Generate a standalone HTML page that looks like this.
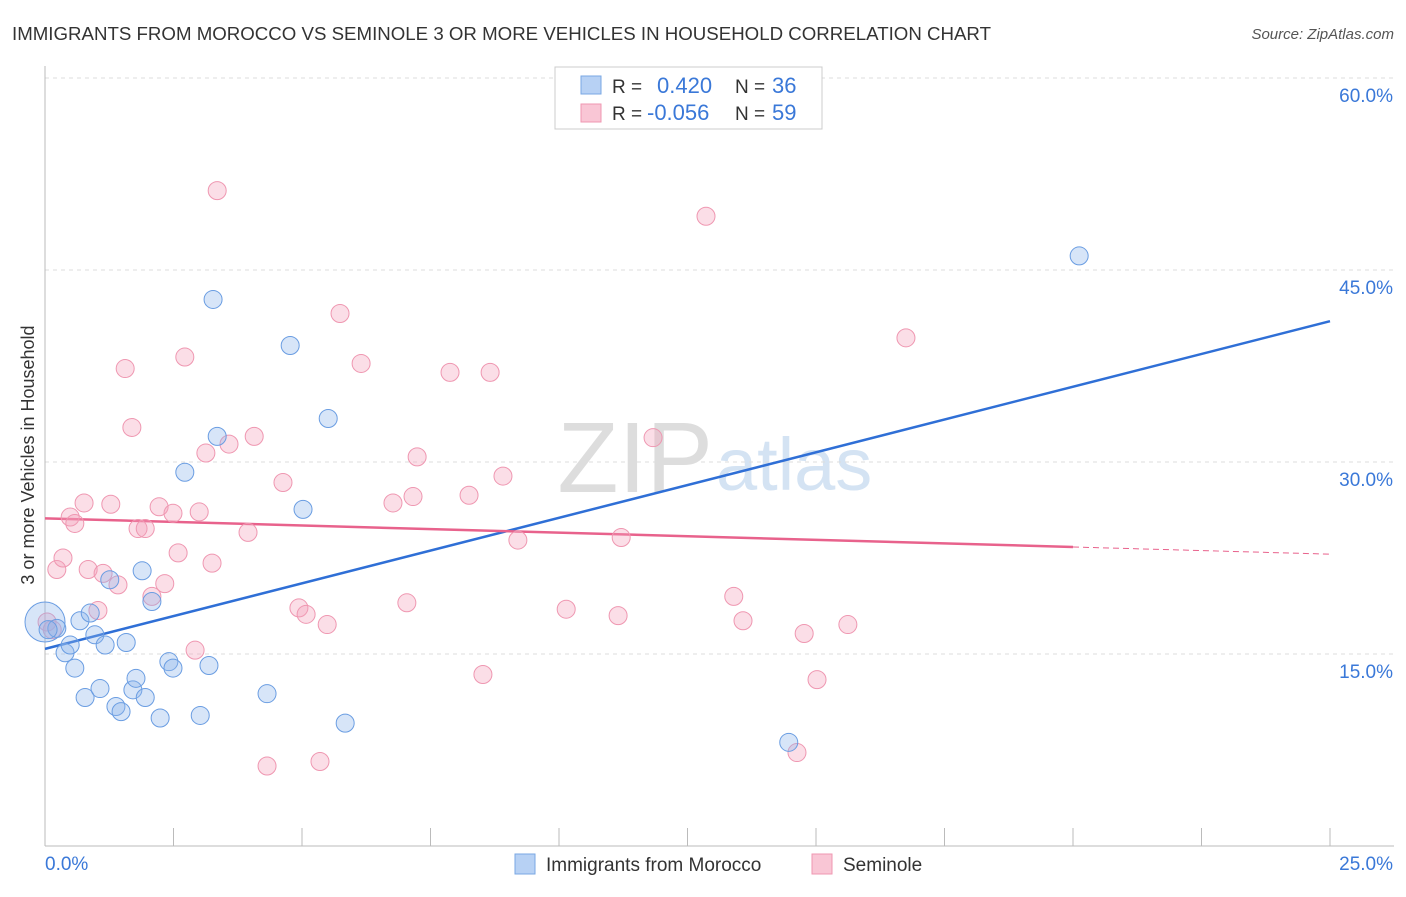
<!DOCTYPE html>
<html><head><meta charset="utf-8"><style>
body{margin:0;background:#fff;font-family:"Liberation Sans",sans-serif;}
svg text{font-family:"Liberation Sans",sans-serif;}
</style></head><body>
<svg id="c" width="1406" height="892" xmlns="http://www.w3.org/2000/svg">
<text x="12" y="40" font-size="18" fill="#333" textLength="979" lengthAdjust="spacingAndGlyphs">IMMIGRANTS FROM MOROCCO VS SEMINOLE 3 OR MORE VEHICLES IN HOUSEHOLD CORRELATION CHART</text>
<text x="1394" y="39" font-size="15" fill="#555" font-style="italic" text-anchor="end">Source: ZipAtlas.com</text>
<text x="713" y="492" font-size="100" fill="#ddd" text-anchor="end" font-family="Liberation Serif">ZIP</text>
<text x="716" y="490" font-size="74" fill="#d4e3f3">atlas</text>
<g id="grid"></g><g id="axes"></g><g id="lines"></g><g id="pts"></g>
<text x="34" y="455" font-size="18" fill="#333" transform="rotate(-90 34 455)" text-anchor="middle">3 or more Vehicles in Household</text>
<g>
<rect x="555" y="67" width="267" height="62" fill="#fff" stroke="#ccc"/>
<rect x="581" y="76" width="20" height="18" fill="#b7d1f4" stroke="#7aa7e3"/>
<rect x="581" y="104" width="20" height="18" fill="#f9c6d5" stroke="#ef97b1"/>
<text x="612" y="93" font-size="19" fill="#333">R = </text><text x="657" y="93" font-size="22" fill="#3a78d8">0.420</text>
<text x="735" y="93" font-size="19" fill="#333">N = </text><text x="772" y="93" font-size="22" fill="#3a78d8">36</text>
<text x="612" y="120" font-size="19" fill="#333">R = </text><text x="647" y="120" font-size="22" fill="#3a78d8">-0.056</text>
<text x="735" y="120" font-size="19" fill="#333">N = </text><text x="772" y="120" font-size="22" fill="#3a78d8">59</text>
</g>
<g>
<rect x="515" y="854" width="20" height="20" fill="#b7d1f4" stroke="#7aa7e3"/>
<text x="546" y="871" font-size="19" fill="#333">Immigrants from Morocco</text>
<rect x="812" y="854" width="20" height="20" fill="#f9c6d5" stroke="#ef97b1"/>
<text x="843" y="871" font-size="19" fill="#333">Seminole</text>
</g>
</svg>
<script>
const xTicks=[0,25];
const yTicks=[15,30,45,60];
const blueX=[0,0.23,0.06,0.39,0.49,0.58,0.68,0.78,0.88,0.97,1.07,1.17,1.26,1.38,1.48,1.58,1.71,1.77,1.89,1.95,2.08,2.24,2.41,2.49,2.72,3.02,3.19,3.27,3.35,4.32,4.77,5.02,5.51,5.84,14.47,20.12];
const blueY=[17.5,17.0,16.9,15.1,15.7,13.9,17.6,11.6,18.2,16.5,12.3,15.7,20.8,10.9,10.5,15.9,12.2,13.1,21.5,11.6,19.1,10.0,14.4,13.9,29.2,10.2,14.1,42.7,32.0,11.9,39.1,26.3,33.4,9.6,8.1,46.1];
const pinkX=[0.04,0.14,0.23,0.35,0.49,0.58,0.76,0.84,1.03,1.13,1.28,1.42,1.56,1.69,1.81,1.95,2.08,2.22,2.33,2.49,2.59,2.72,2.92,3.00,3.13,3.25,3.35,3.58,3.95,4.07,4.32,4.63,4.94,5.08,5.35,5.49,5.74,6.15,6.77,7.04,7.16,7.24,7.88,8.25,8.52,8.66,8.91,9.20,10.14,11.15,11.21,11.83,12.86,13.40,13.58,14.63,14.77,15.02,15.62,16.75];
const pinkY=[17.5,16.9,21.6,22.5,25.7,25.2,26.8,21.6,18.4,21.3,26.7,20.4,37.3,32.7,24.8,24.8,19.5,26.5,20.5,26.0,22.9,38.2,15.3,26.1,30.7,22.1,51.2,31.4,24.5,32.0,6.25,28.4,18.6,18.1,6.6,17.3,41.6,37.7,26.8,19.0,27.3,30.4,37.0,27.4,13.4,37.0,28.9,23.9,18.5,18.0,24.1,31.9,49.2,19.5,17.6,7.3,16.6,13.0,17.3,39.7];
const blueTrend=[15.4,41.0];
const pinkTrend=[25.6,23.36,22.8];
const X=v=>45+v/25*1285, Y=v=>846-v/15*192;
const NS="http://www.w3.org/2000/svg";
function mk(p,t,a){const e=document.createElementNS(NS,t);for(const k in a)e.setAttribute(k,a[k]);document.getElementById(p).appendChild(e);return e;}
yTicks.forEach(t=>{
 const l=mk('grid','line',{x1:45,x2:1394,y1:Y(t),y2:Y(t),stroke:'#ddd','stroke-dasharray':'4,4'});
 
 
 const tx=mk('grid','text',{x:1393,y:Y(t)+24,'font-size':19,fill:'#3a78d8','text-anchor':'end'});tx.textContent=t.toFixed(1)+'%';
 
 
});
mk('axes','line',{x1:45,x2:45,y1:66,y2:846,stroke:'#bbb'});
mk('axes','line',{x1:45,x2:1394,y1:846,y2:846,stroke:'#bbb'});
for(let i=0;i<=10;i++){mk('axes','line',{x1:X(i*2.5),x2:X(i*2.5),y1:828,y2:846,stroke:'#bbb'});}
xTicks.forEach((t,i)=>{const tx=mk('axes','text',{x:i?1393:45,y:870,'font-size':19,fill:'#3a78d8','text-anchor':i?'end':'start'});tx.textContent=t.toFixed(1)+'%';
 
 });
const bl=mk('lines','line',{x1:X(0),y1:Y(blueTrend[0]),x2:X(25),y2:Y(blueTrend[1]),stroke:'#2f6fd6','stroke-width':2.5});


const pl=mk('lines','line',{x1:X(0),y1:Y(pinkTrend[0]),x2:X(20),y2:Y(pinkTrend[1]),stroke:'#e8628c','stroke-width':2.5});


mk('lines','line',{x1:X(20),y1:Y(pinkTrend[1]),x2:X(25),y2:Y(pinkTrend[2]),stroke:'#e8628c','stroke-width':1,'stroke-dasharray':'6,4'});
pinkX.forEach((v,i)=>{const c=mk('pts','circle',{cx:X(v),cy:Y(pinkY[i]),r:9,fill:'rgba(244,160,185,0.35)',stroke:'#ef97b1','stroke-width':1});
 
 });
blueX.forEach((v,i)=>{const c=mk('pts','circle',{cx:X(v),cy:Y(blueY[i]),r:i===0?20:9,fill:'rgba(140,180,235,0.35)',stroke:'#6a9de2','stroke-width':1});
 
 });
</script>
</body></html>
